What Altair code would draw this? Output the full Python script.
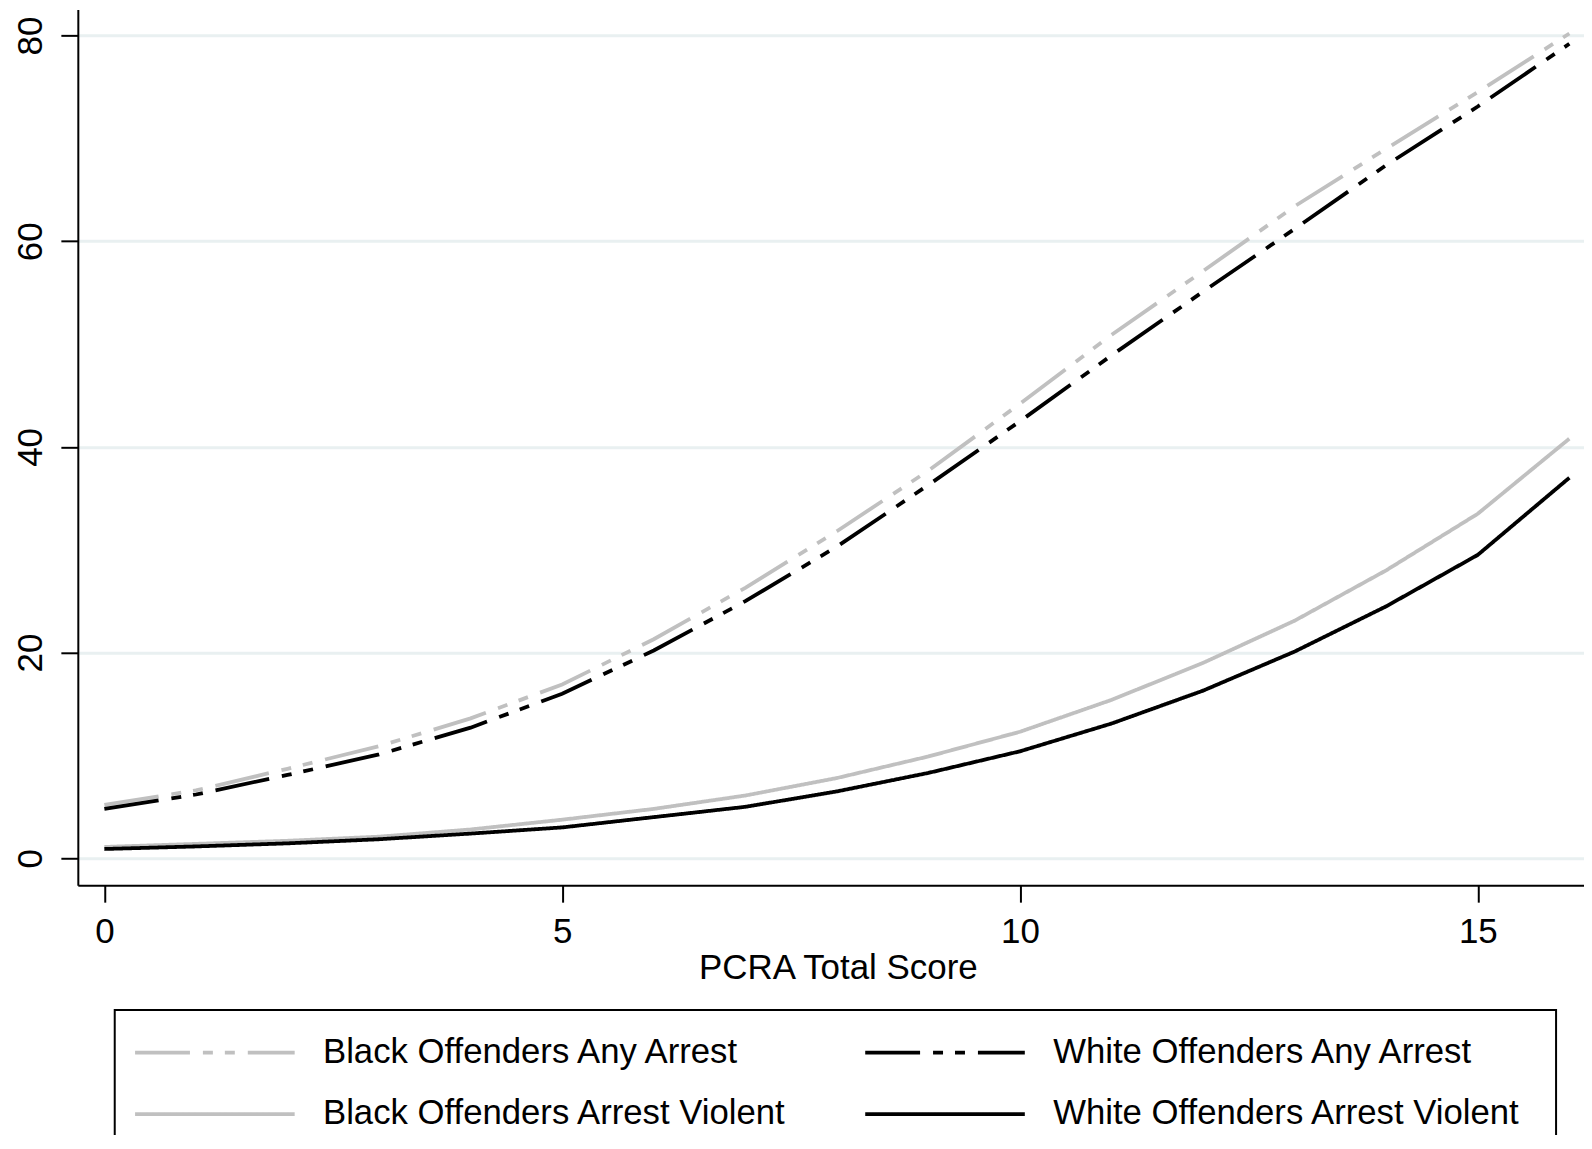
import altair as alt
import pandas as pd

# PCRA total score (x) and predicted arrest rates (%)
scores = list(range(17))
black_any = [5.2, 6.6, 8.7, 10.9, 13.6, 16.9, 21.3, 26.3, 31.8, 37.7, 44.2, 50.9, 57.1, 63.4, 69.0, 74.5, 80.2]
white_any = [4.8, 6.2, 8.1, 10.1, 12.7, 16.0, 20.2, 25.0, 30.3, 36.3, 42.5, 48.9, 55.1, 61.2, 67.4, 73.1, 79.2]
black_violent = [1.1, 1.4, 1.7, 2.1, 2.8, 3.75, 4.8, 6.1, 7.8, 9.9, 12.3, 15.4, 19.0, 23.1, 28.0, 33.5, 40.8]
white_violent = [0.9, 1.15, 1.45, 1.85, 2.4, 3.0, 4.0, 5.0, 6.5, 8.3, 10.4, 13.1, 16.3, 20.1, 24.5, 29.5, 37.0]

series_names = [
    "Black Offenders Any Arrest",
    "White Offenders Any Arrest",
    "Black Offenders Arrest Violent",
    "White Offenders Arrest Violent",
]
series_values = [black_any, white_any, black_violent, white_violent]
colors = ["#c0c0c0", "#000000", "#c0c0c0", "#000000"]
dashdot = [55, 13, 10, 12, 10, 13]
dashes = [dashdot, dashdot, [1, 0], [1, 0]]

x_ticks = [0, 5, 10, 15]
y_ticks = [0, 20, 40, 60, 80]

rows = []
for i in [0, 2, 1, 3]:  # grey series drawn first, black on top
    for s, v in zip(scores, series_values[i]):
        rows.append({"score": s, "value": v, "series": series_names[i]})
df = pd.DataFrame(rows)

FONT = "Liberation Sans"

legend = alt.Legend(
    title="\u00a0",
    titleOrient="right",
    titleFontSize=10,
    titlePadding=11,
    titleColor="white",
    orient="none",
    direction="horizontal",
    legendX=37,
    legendY=1003,
    columns=2,
    columnPadding=70,
    rowPadding=26,
    padding=25,
    symbolType="M-2.2,0H13.8",
    symbolSize=400,
    symbolStrokeWidth=3.8,
    labelFontSize=34.8,
    labelFont=FONT,
    labelColor="black",
    labelOffset=149,
    labelLimit=900,
    strokeColor="black",
    fillColor="white",
)

chart = (
    alt.Chart(df)
    .mark_line(strokeWidth=3.8, strokeCap="butt")
    .encode(
        x=alt.X(
            "score:Q",
            scale=alt.Scale(domain=[-0.29, 16.16], nice=False, zero=False),
            axis=alt.Axis(values=x_ticks, title="PCRA Total Score", grid=False,
                          labelPadding=12, titlePadding=2, titleX=762, titleAlign="center"),
        ),
        y=alt.Y(
            "value:Q",
            scale=alt.Scale(domain=[-2.62, 82.54], nice=False, zero=False),
            axis=alt.Axis(values=y_ticks, title=None, grid=True, labelAngle=-90,
                          labelAlign="center", labelBaseline="bottom", labelPadding=12),
        ),
        color=alt.Color("series:N", scale=alt.Scale(domain=series_names, range=colors), legend=legend),
        strokeDash=alt.StrokeDash("series:N", scale=alt.Scale(domain=series_names, range=dashes), legend=legend),
    )
    .properties(
        width=1510,
        height=878,
        autosize=alt.AutoSizeParams(type="none"),
        padding={"left": 70, "top": 0, "right": 0, "bottom": 249},
        background="white",
    )
    .configure_view(stroke=None)
    .configure_axis(
        domainColor="black",
        domainWidth=2,
        tickColor="black",
        tickWidth=2,
        tickSize=17,
        labelFont=FONT,
        labelFontSize=35,
        labelColor="black",
        titleFont=FONT,
        titleFontSize=35,
        titleFontWeight="normal",
        titleColor="black",
        gridColor="#e9f0f1",
        gridWidth=3,
    )
    .configure_legend(strokeWidth=2)
)

chart.save("out.html", embed_options={"renderer": "svg", "actions": False})
